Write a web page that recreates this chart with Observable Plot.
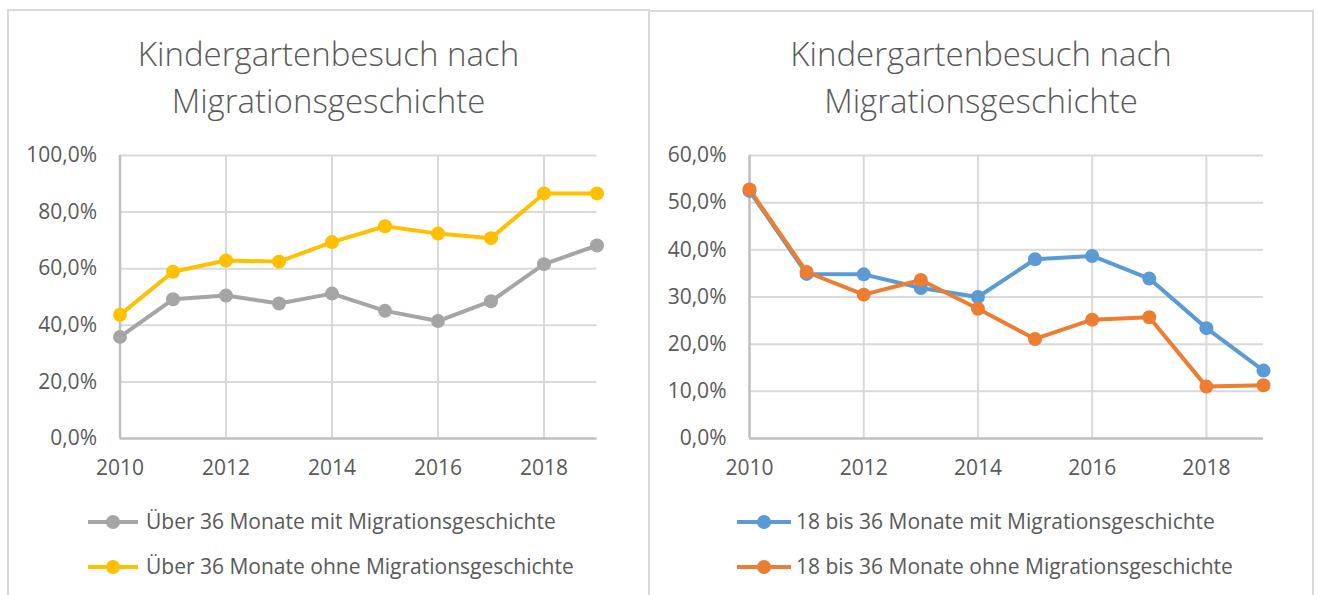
<!DOCTYPE html>
<html>
<head>
<meta charset="utf-8">
<script src="https://cdn.jsdelivr.net/npm/d3@7"></script>
<script src="https://cdn.jsdelivr.net/npm/@observablehq/plot@0.6"></script>
<style>
  html, body { margin: 0; padding: 0; background: #fff; }
  #page { position: relative; width: 1319px; height: 595px; overflow: hidden; font-family: "Open Sans", sans-serif; color: #595959; }
  .panel { position: absolute; border: 2px solid #d9d9d9; border-bottom: none; box-sizing: border-box; }
  .title { position: absolute; text-align: center; font-size: 33px; font-weight: 300; line-height: 47px; }
  .chart { position: absolute; }
  .leg { position: absolute; font-size: 21px; line-height: 26px; white-space: nowrap; }
  .leg svg { position: absolute; }
</style>
</head>
<body>
<div id="page"></div>
<script>
// ---- data ----
const years = [2010, 2011, 2012, 2013, 2014, 2015, 2016, 2017, 2018, 2019];
const ueberMit  = [0.359, 0.492, 0.505, 0.477, 0.512, 0.451, 0.415, 0.485, 0.616, 0.682];
const ueberOhne = [0.437, 0.589, 0.629, 0.625, 0.694, 0.750, 0.724, 0.708, 0.866, 0.866];
const u3Mit     = [0.525, 0.349, 0.348, 0.319, 0.300, 0.380, 0.387, 0.339, 0.234, 0.144];
const u3Ohne    = [0.528, 0.353, 0.305, 0.336, 0.275, 0.211, 0.252, 0.257, 0.110, 0.113];

const title = "Kindergartenbesuch nach\nMigrationsgeschichte";
const xTicks = [2010, 2012, 2014, 2016, 2018];
const yTicksLeft = [0, 0.2, 0.4, 0.6, 0.8, 1.0];
const yTicksRight = [0, 0.1, 0.2, 0.3, 0.4, 0.5, 0.6];
const legendLeft = ["Über 36 Monate mit Migrationsgeschichte", "Über 36 Monate ohne Migrationsgeschichte"];
const legendRight = ["18 bis 36 Monate mit Migrationsgeschichte", "18 bis 36 Monate ohne Migrationsgeschichte"];
const colorsLeft = ["#a5a5a5", "#ffc000"];
const colorsRight = ["#5b9bd5", "#ed7d31"];

const pct = d => (d * 100).toFixed(1).replace(".", ",") + "%";
const page = document.getElementById("page");

function makePanel(cfg) {
  const p = document.createElement("div");
  p.className = "panel";
  Object.assign(p.style, {left: cfg.pl + "px", top: cfg.pt + "px", width: cfg.pw + "px", height: "620px"});
  page.appendChild(p);

  const t = document.createElement("div");
  t.className = "title";
  Object.assign(t.style, {left: cfg.pl + "px", width: cfg.pw + "px", top: "30px"});
  t.innerHTML = title.replace("\n", "<br>");
  page.appendChild(t);

  const rows = [];
  cfg.series.forEach((s, i) => s.forEach((v, j) => rows.push({year: years[j], value: v, s: i})));
  const vGrid = xTicks.filter(d => d !== years[0]);

  const chart = Plot.plot({
    width: cfg.w, height: 340,
    marginLeft: cfg.ml, marginRight: cfg.mr, marginTop: 15, marginBottom: 42,
    style: {fontFamily: "Open Sans, sans-serif", fontSize: "21px", color: "#595959", background: "transparent", overflow: "visible"},
    x: {domain: [2010, 2019], ticks: xTicks, tickFormat: d => String(d), tickSize: 0, tickPadding: 22, label: null},
    y: {domain: [0, cfg.ymax], ticks: cfg.yTicks, tickFormat: pct, tickSize: 0, tickPadding: 23, label: null},
    marks: [
      Plot.ruleY(cfg.yTicks.filter(d => d > 0), {stroke: "#d9d9d9", strokeWidth: 2}),
      Plot.ruleX(vGrid, {stroke: "#d9d9d9", strokeWidth: 2}),
      Plot.ruleX([years[0]], {stroke: "#bfbfbf", strokeWidth: 2.5}),
      Plot.ruleY([0], {stroke: "#bfbfbf", strokeWidth: 2.5}),
      Plot.line(rows, {x: "year", y: "value", z: "s", stroke: d => cfg.colors[d.s], strokeWidth: 4, curve: "linear"}),
      Plot.dot(rows, {x: "year", y: "value", fill: d => cfg.colors[d.s], r: 7, stroke: "none"})
    ]
  });
  chart.classList.add("chart");
  Object.assign(chart.style, {left: cfg.cx + "px", top: "140px"});
  page.appendChild(chart);

  cfg.legend.forEach((label, i) => {
    const cy = [522, 567][i];
    const d = document.createElement("div");
    d.className = "leg";
    Object.assign(d.style, {left: cfg.textX + "px", top: (cy - 14) + "px"});
    d.textContent = label;
    page.appendChild(d);
    const ns = "http://www.w3.org/2000/svg";
    const svg = document.createElementNS(ns, "svg");
    svg.setAttribute("width", 60); svg.setAttribute("height", 20);
    svg.style.position = "absolute";
    svg.style.left = cfg.iconX + "px";
    svg.style.top = (cy - 10) + "px";
    const ln = document.createElementNS(ns, "line");
    ln.setAttribute("x1", 0); ln.setAttribute("x2", cfg.iconW);
    ln.setAttribute("y1", 10); ln.setAttribute("y2", 10);
    ln.setAttribute("stroke", cfg.colors[i]); ln.setAttribute("stroke-width", 4);
    const c = document.createElementNS(ns, "circle");
    c.setAttribute("cx", cfg.iconW / 2); c.setAttribute("cy", 10); c.setAttribute("r", 7);
    c.setAttribute("fill", cfg.colors[i]);
    svg.appendChild(ln); svg.appendChild(c);
    page.appendChild(svg);
  });
}

makePanel({pl: 7, pt: 9, pw: 643, cx: 0, w: 648, ml: 119.5, mr: 51.5, ymax: 1.0, yTicks: yTicksLeft,
  series: [ueberMit, ueberOhne], colors: colorsLeft, legend: legendLeft, textX: 146, iconX: 88, iconW: 50});
makePanel({pl: 648, pt: 10, pw: 666, cx: 650, w: 665, ml: 99, mr: 52, ymax: 0.6, yTicks: yTicksRight,
  series: [u3Mit, u3Ohne], colors: colorsRight, legend: legendRight, textX: 796, iconX: 737, iconW: 54});
</script>
</body>
</html>
